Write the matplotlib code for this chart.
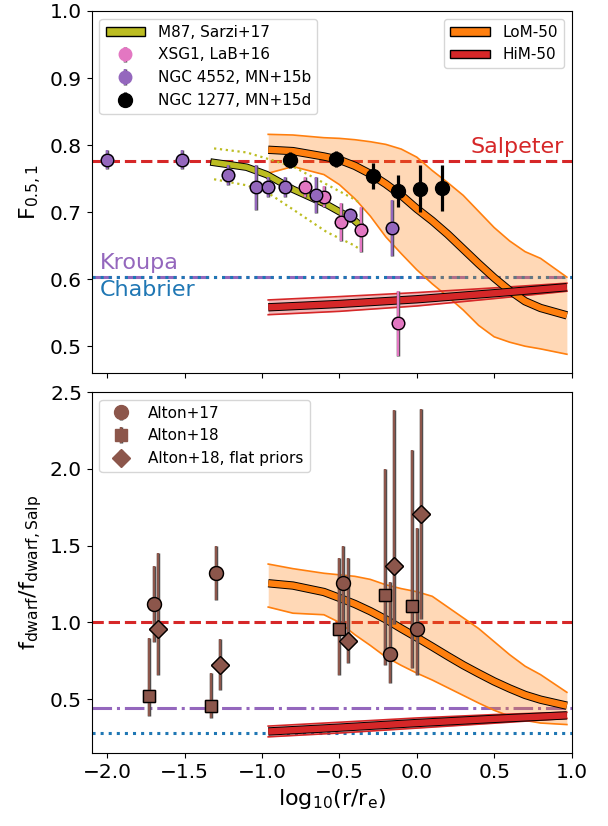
import numpy as np
import matplotlib
matplotlib.use("Agg")
import matplotlib.pyplot as plt
import matplotlib.patheffects as pe
from matplotlib.patches import Patch

# ---- model bands (LoM-50 / HiM-50) ----
x_lom = [-0.96, -0.8, -0.6, -0.5, -0.4, -0.3, -0.2, -0.1, 0.0, 0.1, 0.2, 0.3, 0.4, 0.5, 0.6, 0.7, 0.8, 0.97]
F_lom_med = [0.793, 0.791, 0.783, 0.778, 0.769, 0.757, 0.742, 0.725, 0.705, 0.687, 0.667, 0.645, 0.623, 0.602, 0.583, 0.567, 0.557, 0.546]
F_lom_hi = [0.816, 0.815, 0.811, 0.810, 0.808, 0.805, 0.801, 0.794, 0.782, 0.762, 0.744, 0.725, 0.701, 0.677, 0.657, 0.641, 0.631, 0.603]
F_lom_lo = [0.758, 0.768, 0.756, 0.741, 0.720, 0.694, 0.663, 0.638, 0.614, 0.593, 0.574, 0.554, 0.531, 0.514, 0.506, 0.500, 0.496, 0.488]
f_lom_med = [1.255, 1.240, 1.198, 1.160, 1.120, 1.073, 1.020, 0.960, 0.902, 0.842, 0.781, 0.722, 0.668, 0.616, 0.570, 0.528, 0.497, 0.458]
f_lom_hi = [1.38, 1.35, 1.32, 1.31, 1.30, 1.28, 1.245, 1.22, 1.20, 1.17, 1.10, 1.03, 0.96, 0.875, 0.79, 0.715, 0.66, 0.545]
f_lom_lo = [1.10, 1.06, 1.05, 1.00, 0.92, 0.85, 0.775, 0.72, 0.67, 0.625, 0.575, 0.525, 0.475, 0.428, 0.39, 0.362, 0.345, 0.335]

x_him = [-0.96, -0.5, 0.0, 0.5, 0.97]
F_him_med = [0.558, 0.563, 0.570, 0.579, 0.588]
F_him_hi = [0.569, 0.574, 0.580, 0.587, 0.594]
F_him_lo = [0.547, 0.552, 0.560, 0.571, 0.582]
f_him_med = [0.290, 0.315, 0.345, 0.372, 0.395]
f_him_hi = [0.325, 0.350, 0.378, 0.400, 0.415]
f_him_lo = [0.255, 0.280, 0.312, 0.344, 0.375]

# ---- M87, Sarzi+17 ----
x_m87 = [-1.31, -1.10, -0.97, -0.80, -0.58, -0.41, -0.37]
m87_med = [0.774, 0.767, 0.756, 0.734, 0.711, 0.689, 0.681]
m87_hi = [0.795, 0.789, 0.780, 0.768, 0.741, 0.720, 0.714]
m87_lo = [0.749, 0.740, 0.730, 0.704, 0.670, 0.651, 0.645]

# ---- top panel data points ----
x_4552 = [-2.0, -1.52, -1.22, -1.04, -0.96, -0.85, -0.65, -0.43, -0.16]
F_4552 = [0.778, 0.778, 0.755, 0.737, 0.737, 0.737, 0.725, 0.695, 0.676]
e_4552 = [0.014, 0.014, 0.015, 0.034, 0.015, 0.015, 0.027, 0.010, 0.042]
x_xsg1 = [-0.72, -0.60, -0.49, -0.36, -0.12]
F_xsg1 = [0.737, 0.723, 0.685, 0.674, 0.534]
e_xsg1 = [0.015, 0.016, 0.028, 0.033, 0.048]
x_1277 = [-0.82, -0.52, -0.28, -0.12, 0.02, 0.16]
F_1277 = [0.778, 0.779, 0.754, 0.731, 0.735, 0.736]
e_1277 = [0.012, 0.012, 0.020, 0.024, 0.035, 0.035]

# ---- bottom panel data points (value, lower bound, upper bound) ----
x_a17 = [-1.70, -1.30, -0.475, -0.175, 0.0]
f_a17 = [1.12, 1.32, 1.254, 0.797, 0.955]
lo_a17 = [0.872, 1.143, 1.0, 0.607, 0.655]
hi_a17 = [1.367, 1.497, 1.50, 1.26, 1.617]
x_a18 = [-1.73, -1.33, -0.505, -0.205, -0.03]
f_a18 = [0.524, 0.455, 0.954, 1.18, 1.106]
lo_a18 = [0.39, 0.377, 0.655, 0.72, 0.705]
hi_a18 = [0.90, 0.67, 1.42, 2.00, 2.125]
x_a18f = [-1.67, -1.27, -0.445, -0.145, 0.03]
f_a18f = [0.959, 0.724, 0.876, 1.37, 1.708]
lo_a18f = [0.66, 0.56, 0.737, 0.99, 1.02]
hi_a18f = [1.45, 0.89, 1.42, 2.38, 2.39]

# reference IMF levels
F_salp, F_kroupa, F_chab = 0.776, 0.6036, 0.6036
f_salp, f_kroupa, f_chab = 1.0, 0.444, 0.281

TICK = 14.5
plt.rcParams['font.size'] = TICK

fig = plt.figure(figsize=(6.08, 8.26), dpi=100)
ax1 = fig.add_axes([0.151, 0.5484, 0.789, 0.4383])
ax2 = fig.add_axes([0.151, 0.0884, 0.789, 0.4370], sharex=ax1)

outline = [pe.Stroke(linewidth=6.0, foreground='k'), pe.Normal()]


def model_band(ax, x, med, lo, hi, color, thin_edges=True):
    ax.fill_between(x, lo, hi, color=color, alpha=0.3, lw=0, zorder=2)
    if thin_edges:
        ax.plot(x, lo, color=color, lw=1.2, zorder=2)
        ax.plot(x, hi, color=color, lw=1.2, zorder=2)
    ax.plot(x, med, color=color, lw=4.6, zorder=3, path_effects=outline,
            solid_capstyle='butt')


def points(ax, x, y, lo_err, hi_err, color, marker, ms, elw, label):
    h = ax.errorbar(x, y, yerr=[lo_err, hi_err], fmt=marker, color=color, mec=color,
                    ms=ms, elinewidth=elw, capsize=0, label=label, zorder=5)
    h[2][0].set_path_effects([pe.Stroke(linewidth=elw + 0.9, foreground='0.3'), pe.Normal()])
    ax.plot(x, y, marker, color=color, mec='k', mew=1.0, ms=ms, zorder=6)
    return h


# ================= top panel =================
ax1.axhline(F_salp, color='tab:red', ls='--', lw=2.2, zorder=1)
ax1.axhline(F_kroupa, color='tab:purple', ls='-.', lw=2.2, zorder=1)
ax1.axhline(F_chab, color='tab:blue', ls=':', lw=2.2, zorder=1)
ax1.text(0.985, 0.782, 'Salpeter', color='tab:red', fontsize=16, ha='right', va='bottom',
         transform=ax1.get_yaxis_transform())
ax1.text(-2.05, F_kroupa + 0.005, 'Kroupa', color='tab:purple', fontsize=16, ha='left', va='bottom')
ax1.text(-2.05, F_chab - 0.005, 'Chabrier', color='tab:blue', fontsize=16, ha='left', va='top')

model_band(ax1, x_lom, F_lom_med, F_lom_lo, F_lom_hi, 'tab:orange')
model_band(ax1, x_him, F_him_med, F_him_lo, F_him_hi, 'tab:red')

ax1.plot(x_m87, m87_hi, ':', color='tab:olive', lw=1.6, zorder=3)
ax1.plot(x_m87, m87_lo, ':', color='tab:olive', lw=1.6, zorder=3)
ax1.plot(x_m87, m87_med, color='tab:olive', lw=4.0, zorder=3,
         path_effects=[pe.Stroke(linewidth=5.4, foreground='k'), pe.Normal()])

e_x = points(ax1, x_xsg1, F_xsg1, e_xsg1, e_xsg1, 'tab:pink', 'o', 9, 1.6, 'XSG1, LaB+16')
e_n = points(ax1, x_4552, F_4552, e_4552, e_4552, 'tab:purple', 'o', 9, 1.6, 'NGC 4552, MN+15b')
e_b = ax1.errorbar(x_1277, F_1277, yerr=e_1277, fmt='o', color='k', ms=10, elinewidth=2.3,
                   capsize=0, label='NGC 1277, MN+15d', zorder=6)

m87_handle = Patch(facecolor='tab:olive', edgecolor='k', label='M87, Sarzi+17')
leg1 = ax1.legend(handles=[m87_handle, e_x, e_n, e_b], loc='upper left', fontsize=11,
                  handleheight=0.5, handlelength=2.6)
ax1.add_artist(leg1)
lom_handle = Patch(facecolor='tab:orange', edgecolor='k', label='LoM-50')
him_handle = Patch(facecolor='tab:red', edgecolor='k', label='HiM-50')
ax1.legend(handles=[lom_handle, him_handle], loc='upper right', fontsize=11,
           handleheight=0.5, handlelength=2.6)

ax1.set_ylim(0.46, 1.0)
ax1.set_yticks([0.5, 0.6, 0.7, 0.8, 0.9, 1.0])
ax1.set_ylabel(r'$\mathregular{F_{0.5,1}}$', fontsize=16)
ax1.tick_params(labelbottom=False, labelsize=TICK)

# ================= bottom panel =================
ax2.axhline(f_salp, color='tab:red', ls='--', lw=2.2, zorder=1)
ax2.axhline(f_kroupa, color='tab:purple', ls='-.', lw=2.2, zorder=1)
ax2.axhline(f_chab, color='tab:blue', ls=':', lw=2.2, zorder=1)

model_band(ax2, x_lom, f_lom_med, f_lom_lo, f_lom_hi, 'tab:orange')
model_band(ax2, x_him, f_him_med, f_him_lo, f_him_hi, 'tab:red')

hs = []
for xx, yy, lo, hi, mk, ms, lab in [(x_a17, f_a17, lo_a17, hi_a17, 'o', 10, 'Alton+17'),
                                    (x_a18, f_a18, lo_a18, hi_a18, 's', 9, 'Alton+18'),
                                    (x_a18f, f_a18f, lo_a18f, hi_a18f, 'D', 9, 'Alton+18, flat priors')]:
    yy = np.array(yy)
    hs.append(points(ax2, xx, yy, yy - np.array(lo), np.array(hi) - yy, 'tab:brown', mk, ms, 1.6, lab))
ax2.legend(handles=hs, loc='upper left', fontsize=11)

ax2.set_ylim(0.15, 2.5)
ax2.set_yticks([0.5, 1.0, 1.5, 2.0, 2.5])
ax2.set_xlim(-2.1, 1.0)
ax2.set_xticks([-2.0, -1.5, -1.0, -0.5, 0.0, 0.5, 1.0])
ax2.set_ylabel(r'$\mathregular{f_{dwarf}/f_{dwarf,Salp}}$', fontsize=16)
ax2.set_xlabel(r'$\mathregular{log_{10}(r/r_e)}$', fontsize=16)
ax2.tick_params(labelsize=TICK)

fig.savefig('out.png', dpi=100)
